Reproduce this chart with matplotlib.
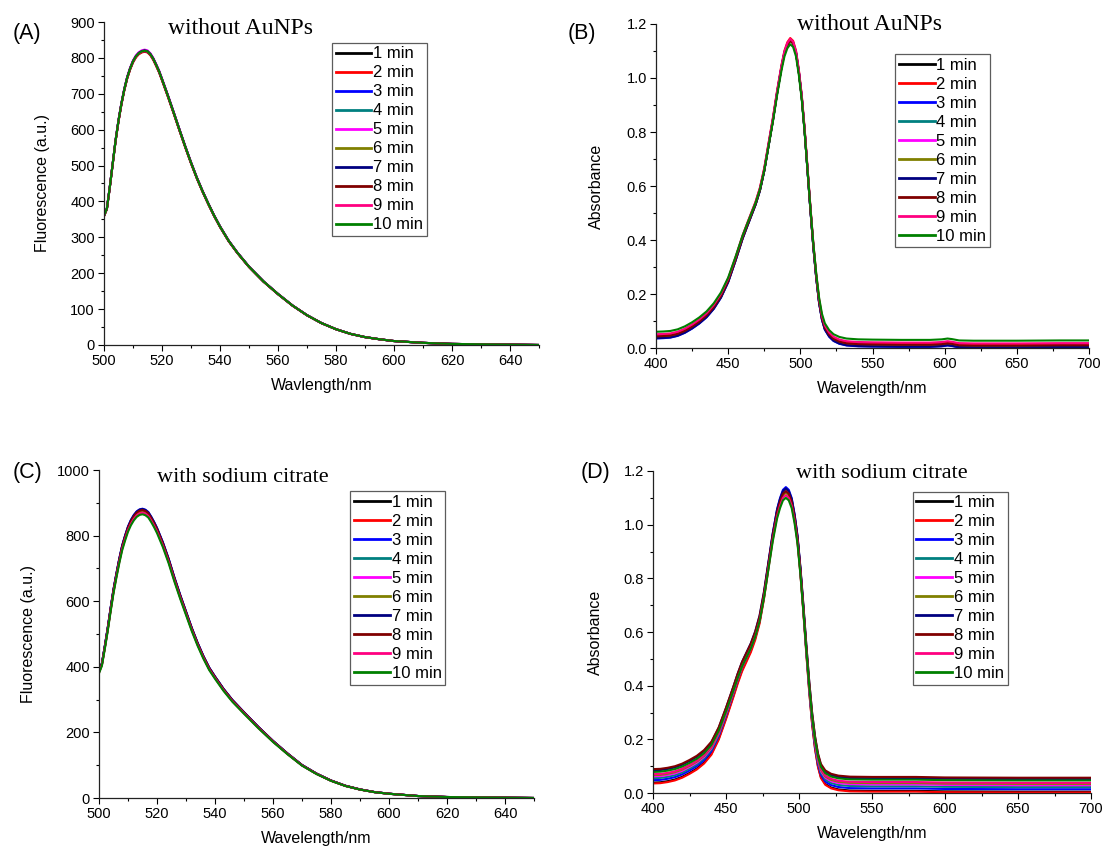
import numpy as np
import matplotlib
matplotlib.use('Agg')
from matplotlib import pyplot as plt
from matplotlib.ticker import MultipleLocator, FormatStrFormatter

plt.rcParams['font.family'] = ['Liberation Sans', 'DejaVu Sans']

# legend labels and Origin-style colours
labels = ['1 min', '2 min', '3 min', '4 min', '5 min', '6 min', '7 min', '8 min', '9 min', '10 min']
colors = ['#000000', '#FF0000', '#0000FF', '#008080', '#FF00FF',
          '#808000', '#000080', '#800000', '#FF0080', '#008000']

# fluorescence spectra (A, C)
wl_fl = [500, 501, 502, 503, 504, 505, 506, 507, 508, 509, 510, 511, 512, 513, 514, 515,
         516, 517, 518, 519, 520, 522, 524, 526, 528, 530, 532, 534, 536, 538, 540, 543,
         546, 550, 555, 560, 565, 570, 575, 580, 585, 590, 595, 600, 610, 620, 630, 640, 650]
fl_a = [360, 380, 440, 505, 570, 625, 672, 712, 745, 770, 790, 804, 813, 818, 820, 818,
        810, 797, 780, 762, 740, 695, 648, 600, 553, 508, 466, 428, 393, 360, 330, 290,
        257, 218, 177, 142, 110, 83, 61, 44, 31, 22, 16, 11, 6, 3, 2, 1, 0]
fl_c = [385, 408, 460, 515, 575, 632, 680, 725, 765, 795, 822, 842, 857, 868, 874, 876,
        873, 866, 852, 836, 818, 775, 725, 668, 615, 565, 515, 470, 430, 395, 368, 330,
        297, 260, 215, 173, 135, 100, 74, 53, 37, 26, 18, 13, 6, 3, 2, 1, 0]
peaks_a = [820, 817, 821, 820, 823, 820, 821, 818, 819, 820]
peaks_c = [878, 872, 882, 877, 876, 874, 881, 878, 870, 865]

# absorbance spectra (B, D): lowest curve of each panel
wl_b = [400, 405, 410, 415, 420, 425, 430, 435, 440, 445, 450, 455, 460, 463, 466, 469,
        472, 475, 478, 481, 484, 487, 489, 491, 493, 495, 497, 499, 501, 503, 505, 507,
        509, 511, 513, 515, 517, 520, 523, 527, 532, 540, 550, 570, 590, 598, 602, 605,
        610, 620, 650, 680, 700]
abs_b = [0.034, 0.035, 0.037, 0.043, 0.054, 0.069, 0.087, 0.109, 0.139, 0.179, 0.234,
         0.309, 0.389, 0.43, 0.47, 0.51, 0.56, 0.63, 0.72, 0.81, 0.91, 1.00, 1.05, 1.08,
         1.095, 1.085, 1.05, 0.98, 0.89, 0.77, 0.63, 0.49, 0.36, 0.25, 0.16, 0.10, 0.065,
         0.04, 0.025, 0.015, 0.009, 0.006, 0.005, 0.004, 0.004, 0.006, 0.009, 0.007,
         0.002, 0.001, 0.001, 0.002, 0.002]
offsets_b = [0.005, 0.012, 0.0, 0.004, 0.006, 0.004, 0.001, 0.008, 0.016, 0.026]
peaks_b = [1.14, 1.148, 1.14, 1.14, 1.14, 1.138, 1.14, 1.138, 1.145, 1.125]

wl_d = [400, 405, 410, 415, 420, 425, 430, 435, 440, 445, 450, 455, 458, 461, 464, 467,
        470, 473, 476, 479, 482, 485, 487, 489, 491, 493, 495, 497, 499, 501, 503, 505,
        507, 509, 511, 513, 515, 518, 522, 527, 535, 550, 580, 590, 600, 650, 700]
abs_d = [0.035, 0.036, 0.040, 0.046, 0.056, 0.070, 0.086, 0.108, 0.14, 0.195, 0.27,
         0.35, 0.40, 0.445, 0.48, 0.515, 0.56, 0.62, 0.71, 0.82, 0.93, 1.02, 1.06, 1.09,
         1.10, 1.09, 1.06, 1.00, 0.92, 0.80, 0.66, 0.51, 0.37, 0.25, 0.16, 0.095, 0.055,
         0.03, 0.017, 0.010, 0.006, 0.005, 0.005, 0.004, 0.003, 0.002, 0.002]
offsets_d = [0.003, 0.0, 0.012, 0.02, 0.027, 0.032, 0.05, 0.055, 0.036, 0.045]
peaks_d = [1.13, 1.12, 1.14, 1.13, 1.125, 1.12, 1.135, 1.125, 1.11, 1.10]

W, H = 1106, 847
fig = plt.figure(figsize=(W / 100, H / 100), dpi=100)


def px_axes(left, right, top, bottom):
    return fig.add_axes([left / W, 1 - bottom / H, (right - left) / W, (bottom - top) / H])


def style(ax, xlim, ylim, xmaj, xmin, ymaj, ymin, yfmt, xlabel, ylabel, ypad):
    ax.set_xlim(*xlim)
    ax.set_ylim(*ylim)
    ax.xaxis.set_major_locator(MultipleLocator(xmaj))
    ax.xaxis.set_minor_locator(MultipleLocator(xmin))
    ax.yaxis.set_major_locator(MultipleLocator(ymaj))
    ax.yaxis.set_minor_locator(MultipleLocator(ymin))
    ax.yaxis.set_major_formatter(FormatStrFormatter(yfmt))
    for s in ['top', 'right']:
        ax.spines[s].set_visible(False)
    for s in ['left', 'bottom']:
        ax.spines[s].set_linewidth(0.9)
        ax.spines[s].set_color('#222222')
    ax.tick_params(which='major', direction='out', length=4.5, width=0.8, labelsize=10.5, pad=2)
    ax.tick_params(which='minor', direction='out', length=2.5, width=0.8)
    ax.set_xlabel(xlabel, fontsize=11.5, labelpad=7)
    ax.set_ylabel(ylabel, fontsize=11.5, labelpad=ypad)


def legend(ax, x, y):
    leg = ax.legend(loc='upper left', bbox_to_anchor=(x, y), fontsize=12, frameon=True,
                    fancybox=False, handlelength=2.15, handletextpad=0.1, labelspacing=0.24,
                    borderpad=0.22, borderaxespad=0)
    leg.get_frame().set_edgecolor('#333333')
    leg.get_frame().set_linewidth(0.9)
    for h in leg.get_lines():
        h.set_linewidth(2.0)


ax_a = px_axes(104, 539, 22, 345)
ax_b = px_axes(656, 1089, 24, 348)
ax_c = px_axes(99, 534, 470, 798)
ax_d = px_axes(653, 1091, 471, 793)

for i in range(10):
    ya = np.array(fl_a) * peaks_a[i] / max(fl_a)
    yc = np.array(fl_c) * peaks_c[i] / max(fl_c)
    yb = offsets_b[i] + np.array(abs_b) * (peaks_b[i] - offsets_b[i]) / max(abs_b)
    yd = offsets_d[i] + np.array(abs_d) * (peaks_d[i] - offsets_d[i]) / max(abs_d)
    ax_a.plot(wl_fl, ya, color=colors[i], lw=1.5, label=labels[i])
    ax_c.plot(wl_fl, yc, color=colors[i], lw=1.5, label=labels[i])
    ax_b.plot(wl_b, yb, color=colors[i], lw=1.5, label=labels[i])
    ax_d.plot(wl_d, yd, color=colors[i], lw=1.5, label=labels[i])

style(ax_a, (500, 650), (0, 900), 20, 10, 100, 50, '%d', 'Wavlength/nm', 'Fluorescence (a.u.)', 15)
style(ax_c, (500, 650), (0, 1000), 20, 10, 200, 100, '%d', 'Wavelength/nm', 'Fluorescence (a.u.)', 15)
style(ax_b, (400, 700), (0, 1.2), 50, 25, 0.2, 0.1, '%.1f', 'Wavelength/nm', 'Absorbance', 16)
style(ax_d, (400, 700), (0, 1.2), 50, 25, 0.2, 0.1, '%.1f', 'Wavelength/nm', 'Absorbance', 15)

legend(ax_a, 0.524, 0.936)
legend(ax_b, 0.552, 0.907)
legend(ax_c, 0.578, 0.935)
legend(ax_d, 0.593, 0.936)

serif = ['Liberation Serif', 'DejaVu Serif']
ax_a.text(0.314, 0.979, 'without AuNPs', transform=ax_a.transAxes, ha='center', va='center',
          fontsize=17, family=serif)
ax_b.text(0.493, 0.998, 'without AuNPs', transform=ax_b.transAxes, ha='center', va='center',
          fontsize=17, family=serif)
ax_c.text(0.33, 0.978, 'with sodium citrate', transform=ax_c.transAxes, ha='center',
          va='center', fontsize=16, family=serif)
ax_d.text(0.523, 0.991, 'with sodium citrate', transform=ax_d.transAxes, ha='center',
          va='center', fontsize=16, family=serif)

for lab, x, y in [('(A)', 27, 33), ('(B)', 582, 33), ('(C)', 27, 472), ('(D)', 595, 472)]:
    fig.text(x / W, 1 - y / H, lab, ha='center', va='center', fontsize=15.5)

fig.savefig('out.png', dpi=100)
